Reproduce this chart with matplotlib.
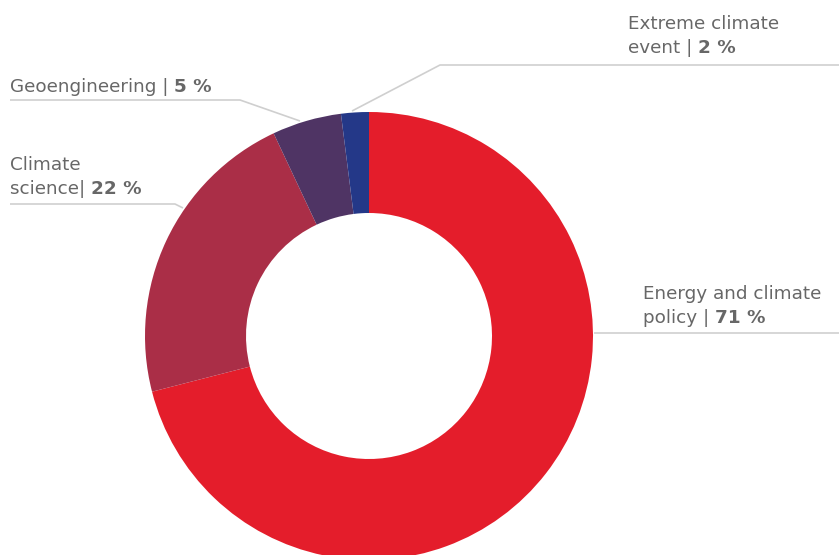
import matplotlib
matplotlib.use("Agg")
import matplotlib.pyplot as plt

labels = ["Energy and climate\npolicy | ", "Climate\nscience| ", "Geoengineering | ", "Extreme climate\nevent | "]
shares = [71, 22, 5, 2]
colors = ["#E41D2B", "#AA2E47", "#4F3464", "#243888"]

W, H = 839, 555
fig = plt.figure(figsize=(W / 100, H / 100), dpi=100)
ax = fig.add_axes([0, 0, 1, 1])
ax.set_xlim(0, W)
ax.set_ylim(0, H)
ax.set_aspect("equal")
ax.axis("off")

cx, cy = 369, H - 336
r_out, r_in = 224, 123
ax.pie(shares, colors=colors, startangle=90, counterclock=False,
       center=(cx, cy), radius=r_out, frame=True,
       wedgeprops=dict(width=r_out - r_in, linewidth=0))
ax.set_xlim(0, W)
ax.set_ylim(0, H)
ax.axis("off")

grey = "#676767"
line_c = "#cfcfcf"
fs = 13.2
font = "DejaVu Sans"

fig.canvas.draw()
rend = fig.canvas.get_renderer()


def label(x, y, name, pct):
    # name may hold two lines; the bold percentage follows the last line
    lines = name.split("\n")
    for i, ln in enumerate(lines):
        t = ax.text(x, H - (y + 24 * i), ln, fontsize=fs, color=grey,
                    family=font, va="baseline", ha="left")
    bb = t.get_window_extent(renderer=rend)
    ax.text(bb.x1, H - (y + 24 * (len(lines) - 1)), f"{pct} %", fontsize=fs,
            color=grey, family=font, fontweight="bold", va="baseline", ha="left")


def leader(pts):
    xs = [p[0] for p in pts]
    ys = [H - p[1] for p in pts]
    ax.plot(xs, ys, color=line_c, lw=1.2, solid_capstyle="butt")


# energy and climate policy
label(643, 299, labels[0], shares[0])
leader([(594, 333), (839, 333)])
# climate science
label(10, 170, labels[1], shares[1])
leader([(10, 204), (175, 204), (183, 208)])
# geoengineering
label(10, 92, labels[2], shares[2])
leader([(10, 100), (240, 100), (300, 121)])
# extreme climate event
label(628, 29, labels[3], shares[3])
leader([(352, 111), (440, 65), (839, 65)])

fig.savefig("out.png", dpi=100)
